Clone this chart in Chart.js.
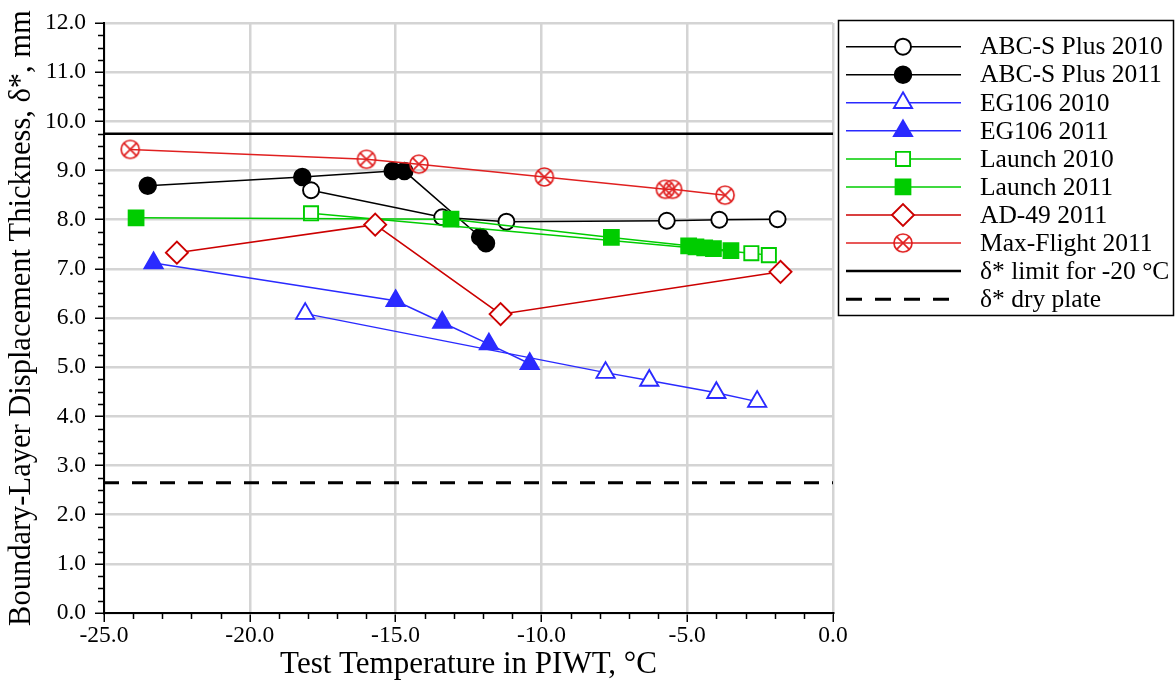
<!DOCTYPE html>
<html>
<head>
<meta charset="utf-8">
<script src="https://cdn.jsdelivr.net/npm/chart.js@4.4.1/dist/chart.umd.min.js"></script>
<style>
 html,body{margin:0;padding:0;background:#fff}
 #wrap{width:1176px;height:683px}
</style>
</head>
<body>
<div id="wrap"><canvas id="chart" width="1176" height="683"></canvas></div>
<script>
// axis ranges and ticks
var xMin=-25, xMax=0, xStep=5, xMinor=1;
var yMin=0, yMax=12, yStep=1, yMinor=0.25;
// series values (temperature in C, thickness in mm)
var abc2010X=[-17.9,-13.4,-11.2,-5.7,-3.9,-1.9];
var abc2010Y=[8.60,8.05,7.96,7.98,8.00,8.01];
var abc2011X=[-23.5,-18.2,-15.1,-14.7,-12.1,-11.9];
var abc2011Y=[8.69,8.87,8.99,8.99,7.65,7.52];
var eg2010X=[-18.1,-7.8,-6.3,-4.0,-2.6];
var eg2010Y=[6.09,4.89,4.73,4.48,4.30];
var eg2011X=[-23.3,-15.0,-13.4,-11.8,-10.4];
var eg2011Y=[7.12,6.35,5.91,5.47,5.07];
var launch2010X=[-17.9,-2.8,-2.2];
var launch2010Y=[8.13,7.32,7.28];
var launch2011X=[-23.9,-13.1,-7.6,-4.95,-4.7,-4.4,-4.1,-3.5];
var launch2011Y=[8.04,8.01,7.64,7.47,7.45,7.43,7.41,7.37];
var ad49X=[-22.5,-15.7,-11.4,-1.8];
var ad49Y=[7.33,7.90,6.08,6.94];
var maxFlightX=[-24.1,-16.0,-14.2,-9.9,-5.75,-5.5,-3.7];
var maxFlightY=[9.43,9.23,9.13,8.87,8.62,8.62,8.50];
var limitY=9.75;
var dryPlateY=2.65;

var BLACK='#000000', BLUE='#2a2aff', GREEN='#00cc00', RED='#cc0000', RED2='#e02020';
var serif='"Liberation Serif","Times New Roman",serif';

function pts(xs,ys){return xs.map(function(x,i){return {x:x,y:ys[i]};});}

// circle with a cross, used for Max-Flight
function crossCircle(color){
 var c=document.createElement('canvas');c.width=24;c.height=24;
 var g=c.getContext('2d');g.strokeStyle=color;g.lineWidth=1.7;
 g.beginPath();g.arc(12,12,9,0,Math.PI*2);g.stroke();
 var d=9*Math.SQRT1_2;
 g.beginPath();g.moveTo(12-d,12-d);g.lineTo(12+d,12+d);g.moveTo(12+d,12-d);g.lineTo(12-d,12+d);g.stroke();
 return c;
}

function series(label,xs,ys,color,style,filled,radius,idx){
 return {
  label:label,data:pts(xs,ys),borderColor:color,borderWidth:1.5,
  pointStyle:style,pointRadius:radius,pointHoverRadius:radius,
  pointBackgroundColor:filled?color:'#ffffff',pointBorderColor:color,pointBorderWidth:1.9,
  fill:false,tension:0,order:-idx
 };
}

var datasets=[
 series('ABC-S Plus 2010',abc2010X,abc2010Y,BLACK,'circle',false,8,0),
 series('ABC-S Plus 2011',abc2011X,abc2011Y,BLACK,'circle',true,8.3,1),
 series('EG106 2010',eg2010X,eg2010Y,BLUE,'triangle',false,10.5,2),
 series('EG106 2011',eg2011X,eg2011Y,BLUE,'triangle',true,10.5,3),
 series('Launch 2010',launch2010X,launch2010Y,GREEN,'rect',false,10,4),
 series('Launch 2011',launch2011X,launch2011Y,GREEN,'rect',true,10.5,5),
 series('AD-49 2011',ad49X,ad49Y,RED,'rectRot',false,11,6),
 series('Max-Flight 2011',maxFlightX,maxFlightY,RED2,crossCircle(RED2),false,9,7),
 {label:'\u03b4* limit for -20 \u00b0C',data:[{x:xMin,y:limitY},{x:xMax,y:limitY}],borderColor:BLACK,borderWidth:2.5,pointRadius:0,order:10},
 {label:'\u03b4* dry plate',data:[{x:xMin,y:dryPlateY},{x:xMax,y:dryPlateY}],borderColor:BLACK,borderWidth:3,borderDash:[15,13],pointRadius:0,order:11}
];

// legend box on the right
var legendBox={id:'legendBox',afterDraw:function(chart){
 var ctx=chart.ctx;ctx.save();
 ctx.strokeStyle='#000';ctx.lineWidth=1.5;ctx.strokeRect(838.5,20.5,335,295);
 chart.data.datasets.forEach(function(ds,i){
  var y=46.7+i*28.05;
  ctx.beginPath();ctx.setLineDash(ds.borderDash?[16,13]:[]);
  ctx.strokeStyle=ds.borderColor;ctx.lineWidth=ds.borderWidth;
  ctx.moveTo(846,y);ctx.lineTo(961,y);ctx.stroke();ctx.setLineDash([]);
  if(ds.pointRadius>0){
   ctx.fillStyle=ds.pointBackgroundColor;ctx.strokeStyle=ds.pointBorderColor;ctx.lineWidth=ds.pointBorderWidth;
   Chart.helpers.drawPoint(ctx,{pointStyle:ds.pointStyle,radius:ds.pointRadius,rotation:0,borderWidth:ds.pointBorderWidth},903,y);
  }
  ctx.fillStyle='#000';ctx.font='25.5px '+serif;ctx.textBaseline='middle';ctx.textAlign='left';
  ctx.fillText(ds.label,980,y+1);
 });
 ctx.restore();
}};

// minor ticks on both axes
var minorTicks={id:'minorTicks',afterDraw:function(chart){
 var ctx=chart.ctx,xs=chart.scales.x,ys=chart.scales.y,a=chart.chartArea,v,p;
 ctx.save();ctx.strokeStyle='#000';ctx.lineWidth=1.5;ctx.beginPath();
 for(v=yMin;v<=yMax+1e-9;v+=yMinor){
  if(Math.abs(v/yStep-Math.round(v/yStep))<1e-6)continue;
  p=Math.round(ys.getPixelForValue(v))+0.5;ctx.moveTo(a.left-6,p);ctx.lineTo(a.left,p);
 }
 for(v=xMin;v<=xMax+1e-9;v+=xMinor){
  if(Math.abs(v/xStep-Math.round(v/xStep))<1e-6)continue;
  p=Math.round(xs.getPixelForValue(v))+0.5;ctx.moveTo(p,a.bottom);ctx.lineTo(p,a.bottom+6);
 }
 ctx.stroke();ctx.restore();
}};

var ctx=document.getElementById('chart').getContext('2d');
var chart=new Chart(ctx,{
 type:'line',
 data:{datasets:datasets},
 options:{
  responsive:false,animation:false,
  layout:{padding:{top:22,right:343,left:0,bottom:0}},
  plugins:{legend:{display:false},tooltip:{enabled:false}},
  scales:{
   x:{
    type:'linear',min:xMin,max:xMax,
    afterFit:function(s){s.height=70;},
    ticks:{stepSize:xStep,color:'#000',padding:0,font:{family:serif,size:23.5},callback:function(v){return v.toFixed(1);}},
    grid:{color:'#d4d4d4',lineWidth:2.5,tickColor:'#000',tickLength:9,tickWidth:1.5},
    border:{color:'#000',width:2},
    title:{display:true,text:'Test Temperature in PIWT, \u00b0C',color:'#000',font:{family:serif,size:31},padding:{top:0,bottom:0}}
   },
   y:{
    type:'linear',min:yMin,max:yMax,
    afterFit:function(s){s.width=104;},
    ticks:{stepSize:yStep,color:'#000',padding:9,font:{family:serif,size:23.5},callback:function(v){return v.toFixed(1);}},
    grid:{color:'#d4d4d4',lineWidth:2.5,tickColor:'#000',tickLength:9,tickWidth:1.5},
    border:{color:'#000',width:2},
    title:{display:true,text:'Boundary-Layer Displacement Thickness, \u03b4*, mm',color:'#000',font:{family:serif,size:30.5},padding:{top:4,bottom:0}}
   }
  }
 },
 plugins:[legendBox,minorTicks]
});
</script>
</body>
</html>
